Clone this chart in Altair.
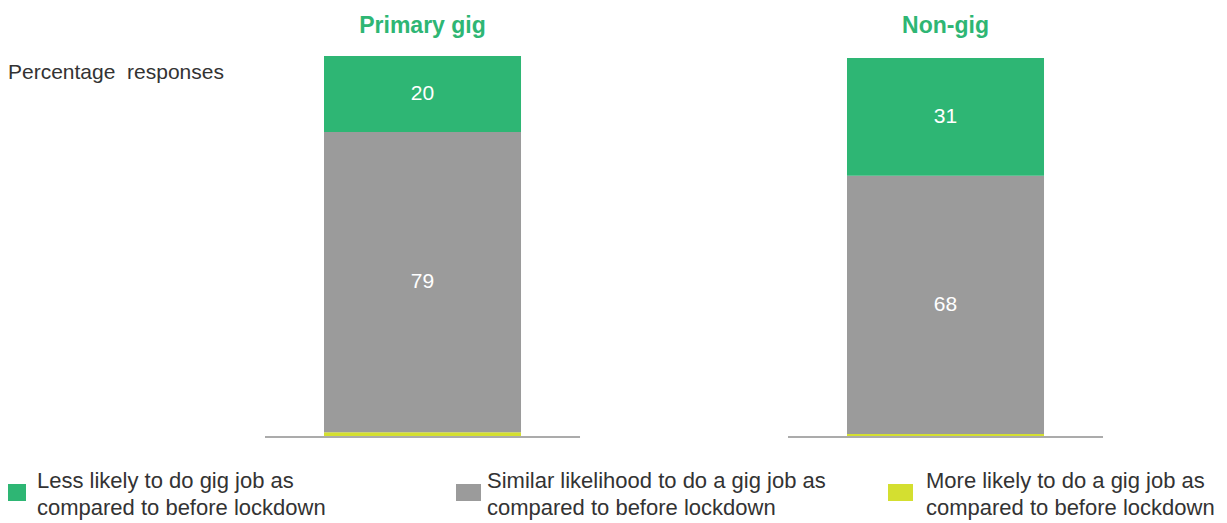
import altair as alt
import pandas as pd

# ---- data ----
groups = ["Primary gig", "Non-gig"]
series = [
    "More likely to do a gig job as compared to before lockdown",
    "Similar likelihood to do a gig job as compared to before lockdown",
    "Less likely to do gig job as compared to before lockdown",
]
more_likely = [1, 0.5]
similar = [79, 68]
less_likely = [20, 31]

legend_items = [
    (series[2], ["Less likely to do gig job as", "compared to before lockdown"]),
    (series[1], ["Similar likelihood to do a gig job as", "compared to before lockdown"]),
    (series[0], ["More likely to do a gig job as", "compared to before lockdown"]),
]

GREEN = "#2EB674"
GRAY = "#9B9B9B"
YELLOW = "#D4DF30"
TEXT = "#333333"
FONT = "Liberation Sans"

rows = []
for i, g in enumerate(groups):
    for k, (s, vals) in enumerate(zip(series, [more_likely, similar, less_likely])):
        rows.append({"group": g, "series": s, "value": vals[i], "order": k})
df = pd.DataFrame(rows)
gdf = pd.DataFrame({"group": groups})
one = pd.DataFrame({"k": [0]})

xscale = alt.Scale(domain=groups, paddingInner=0.6233, paddingOuter=0.4694, align=0.6436)
yscale = alt.Scale(domain=[0, 100])
cscale = alt.Scale(domain=series, range=[YELLOW, GRAY, GREEN])

X = alt.X("group:N", scale=xscale, axis=None, sort=groups)

bars = alt.Chart(df).mark_bar().encode(
    x=X,
    y=alt.Y("value:Q", stack="zero", scale=yscale, axis=None),
    color=alt.Color("series:N", scale=cscale, legend=None),
    order=alt.Order("order:Q"),
)

labels = (
    alt.Chart(df)
    .transform_stack(stack="value", groupby=["group"], as_=["v0", "v1"],
                     sort=[alt.SortField("order", order="ascending")])
    .transform_filter("datum.value >= 5")
    .transform_calculate(mid="(datum.v0 + datum.v1) / 2")
    .mark_text(color="white", fontSize=21, font=FONT, baseline="middle")
    .encode(x=X, y=alt.Y("mid:Q", scale=yscale, axis=None), text=alt.Text("value:Q"))
)

baseline = alt.Chart(gdf).mark_tick(
    orient="horizontal", size=315, thickness=2, color="#888888", yOffset=1
).encode(x=X, y=alt.Y(datum=0, scale=yscale, axis=None))

titles = alt.Chart(gdf).mark_text(
    color=GREEN, fontSize=23, fontWeight="bold", font=FONT, baseline="alphabetic"
).encode(x=X, y=alt.value(-23), text="group:N")

ytitle = alt.Chart(one).mark_text(
    align="left", baseline="alphabetic", fontSize=21, font=FONT, color=TEXT
).encode(x=alt.value(0), y=alt.value(23), text=alt.value("Percentage\u00a0 responses"))

legend_layers = []
legend_pos = [(0, 18, 29), (448, 473, 479), (880, 905, 918)]
for (s, lines), (x0, x1, tx) in zip(legend_items, legend_pos):
    col = cscale.range[series.index(s)]
    legend_layers.append(
        alt.Chart(one).mark_rect(color=col).encode(
            x=alt.value(x0), x2=alt.value(x1), y=alt.value(428), y2=alt.value(445)
        )
    )
    legend_layers.append(
        alt.Chart(one).mark_text(
            align="left", baseline="alphabetic", fontSize=22, font=FONT,
            color=TEXT, lineHeight=27
        ).encode(x=alt.value(tx), y=alt.value(432), text=alt.value(lines))
    )

chart = alt.layer(bars, labels, baseline, titles, ytitle, *legend_layers).properties(
    width=1211,
    height=380,
    padding={"left": 0, "top": 48, "right": 0, "bottom": 92},
    autosize=alt.AutoSizeParams(type="none"),
).configure_view(stroke=None)

chart.save("out.html", embed_options={"renderer": "svg", "actions": False})
